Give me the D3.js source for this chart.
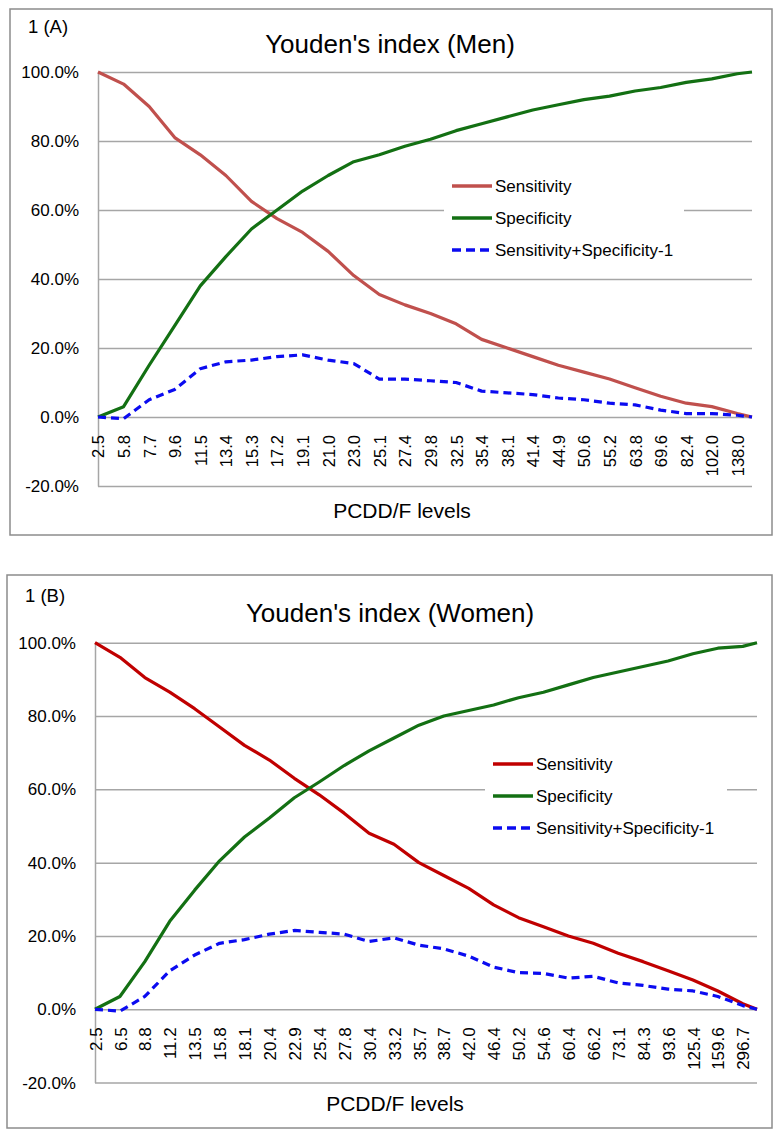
<!DOCTYPE html>
<html><head><meta charset="utf-8">
<script src="https://cdn.jsdelivr.net/npm/d3@7"></script>
<style>
html,body{margin:0;padding:0;background:#fff;}
svg{display:block;font-family:"Liberation Sans",Arial,sans-serif;}
</style></head>
<body>
<svg id="chart" width="780" height="1137"></svg>
<script>
// ---------- DATA ----------
const seriesNames = ["Sensitivity", "Specificity", "Sensitivity+Specificity-1"];
const yTicks = [-20, 0, 20, 40, 60, 80, 100];

// Men
const menLabels = ["2.5","5.8","7.7","9.6","11.5","13.4","15.3","17.2","19.1","21.0","23.0","25.1","27.4","29.8","32.5","35.4","38.1","41.4","44.9","50.6","55.2","63.8","69.6","82.4","102.0","138.0"];
const menIndex = [0,7,14,21,28,35,42,49,56,63,70,77,84,91,98,105,112,119,126,133,140,147,154,161,168,175,179];
const menSensitivity = [100,96.5,90,81,76,70,62.5,57.5,53.5,48,41,35.5,32.5,30,27,22.5,20,17.5,15,13,11,8.5,6,4,3,1,0];
const menSpecificity = [0,3,15,26.5,38,46.5,54.5,60,65.5,70,74,76,78.5,80.5,83,85,87,89,90.5,92,93,94.5,95.5,97,98,99.5,100];
const menYouden = [0,-0.5,5,8,14,16,16.5,17.5,18,16.5,15.5,11,11,10.5,10,7.5,7,6.5,5.5,5,4,3.5,2,1,1,0.5,0];

// Women
const womenLabels = ["2.5","6.5","8.8","11.2","13.5","15.8","18.1","20.4","22.9","25.4","27.8","30.4","33.2","35.7","38.7","42.0","46.4","50.2","54.6","60.4","66.2","73.1","84.3","93.6","125.4","159.6","296.7"];
const womenIndex = [0,7,14,21,28,35,42,49,56,63,70,77,84,91,98,105,112,119,126,133,140,147,154,161,168,175,182,186];
const womenSensitivity = [100,96,90.5,86.5,82,77,72,68,63,58.5,53.5,48,45,40,36.5,33,28.5,25,22.5,20,18,15.3,13,10.5,8,5,1.5,0];
const womenSpecificity = [0,3.5,13,24,32.5,40.5,47,52.2,57.7,62,66.5,70.5,74,77.5,80,81.5,83,85,86.5,88.5,90.5,92,93.5,95,97,98.5,99,100];
const womenYouden = [0,-0.5,3.5,10.5,14.8,18,19,20.5,21.5,21,20.5,18.5,19.5,17.5,16.5,14.5,11.5,10,9.8,8.5,9,7.2,6.5,5.5,5,3.5,1,0];

// ---------- DRAW ----------
const svg = d3.select("#chart");
const GRID = "#a6a6a6";

function drawPanel(cfg) {
  const g = svg.append("g");
  g.append("rect").attr("x", cfg.box[0]).attr("y", cfg.box[1])
    .attr("width", cfg.box[2]).attr("height", cfg.box[3])
    .attr("fill", "#fff").attr("stroke", "#8c8c8c").attr("stroke-width", 1.5);

  const x = d3.scaleLinear().domain([0, d3.max(cfg.index)]).range([cfg.left, cfg.right]);
  const y = d3.scaleLinear().domain([-20, 100]).range([cfg.bottom, cfg.top]);

  const yAxis = d3.axisLeft(y).tickValues(yTicks)
    .tickFormat(d => d.toFixed(1) + "%")
    .tickSizeInner(-(cfg.right - cfg.left)).tickSizeOuter(0).tickPadding(19);
  const ya = g.append("g").attr("transform", `translate(${cfg.left},0)`).call(yAxis);
  ya.selectAll(".tick line").attr("stroke", GRID).attr("stroke-width", 1.5);
  ya.select(".domain").attr("stroke", GRID).attr("stroke-width", 1.5);
  ya.selectAll("text").attr("font-size", 17).attr("fill", "#000")
    .attr("font-family", "Liberation Sans, Arial, sans-serif");

  const labelIdx = cfg.labels.map((l, i) => cfg.index[i]);
  const xAxis = d3.axisBottom(x).tickValues(labelIdx)
    .tickFormat((d, i) => cfg.labels[i]).tickSize(0);
  const xa = g.append("g").attr("transform", `translate(0,${y(0)})`).call(xAxis);
  xa.select(".domain").remove();
  xa.selectAll("text")
    .attr("transform", "rotate(-90)")
    .attr("x", -cfg.xLabelGap).attr("y", 0).attr("dy", "0.36em")
    .style("text-anchor", "end")
    .attr("font-size", cfg.xFont).attr("fill", "#000")
    .attr("font-family", "Liberation Sans, Arial, sans-serif");

  const lg = g.append("g");
  lg.append("rect").attr("x", cfg.legend[0] - 8).attr("y", cfg.legend[1] - 16)
    .attr("width", cfg.legendW).attr("height", 96).attr("fill", "#fff");

  const series = [
    {name: seriesNames[0], values: cfg.sens, color: cfg.sensColor, dash: null},
    {name: seriesNames[1], values: cfg.spec, color: "#137013", dash: null},
    {name: seriesNames[2], values: cfg.youden, color: "#0b0bf0", dash: "8,5"}
  ];
  const line = d3.line().x((d, i) => x(cfg.index[i])).y(d => y(d)).curve(d3.curveLinear);
  series.forEach(s => {
    g.append("path").datum(s.values).attr("d", line)
      .attr("fill", "none").attr("stroke", s.color).attr("stroke-width", 3.2)
      .attr("stroke-linejoin", "round")
      .attr("stroke-dasharray", s.dash);
  });

  series.forEach((s, i) => {
    const ly = cfg.legend[1] + i * 32;
    lg.append("line").attr("x1", cfg.legend[0]).attr("x2", cfg.legend[0] + 40)
      .attr("y1", ly).attr("y2", ly).attr("stroke", s.color).attr("stroke-width", 3.5)
      .attr("stroke-dasharray", s.dash ? "9,5" : null);
    lg.append("text").attr("x", cfg.legend[0] + 43).attr("y", ly + 6)
      .attr("font-size", 17).attr("fill", "#000").text(s.name);
  });
  lg.raise();

  g.append("text").attr("x", cfg.box[0] + 18).attr("y", cfg.tagY)
    .attr("font-size", 18.5).attr("fill", "#000").text(cfg.tag);
  g.append("text").attr("x", 390).attr("y", cfg.titleY).attr("text-anchor", "middle")
    .attr("font-size", 26).attr("fill", "#000").text(cfg.title);
  g.append("text").attr("x", cfg.xTitleX).attr("y", cfg.xTitleY).attr("text-anchor", "middle")
    .attr("font-size", 21).attr("fill", "#000").text("PCDD/F levels");
}

drawPanel({
  box: [10, 9, 762, 526], left: 98, right: 752, top: 72, bottom: 486,
  labels: menLabels, index: menIndex,
  sens: menSensitivity, spec: menSpecificity, youden: menYouden,
  sensColor: "#c0504d", xLabelGap: 18, xFont: 16.5,
  legend: [452, 186], legendW: 240,
  tag: "1 (A)", tagY: 33, title: "Youden's index (Men)", titleY: 53,
  xTitleX: 402, xTitleY: 518
});

drawPanel({
  box: [7, 575, 765, 553], left: 95, right: 757, top: 642.7, bottom: 1082.6,
  labels: womenLabels, index: womenIndex,
  sens: womenSensitivity, spec: womenSpecificity, youden: womenYouden,
  sensColor: "#c00000", xLabelGap: 18, xFont: 17,
  legend: [493, 764], legendW: 242,
  tag: "1 (B)", tagY: 602, title: "Youden's index (Women)", titleY: 622,
  xTitleX: 395, xTitleY: 1111
});
</script>
</body></html>
